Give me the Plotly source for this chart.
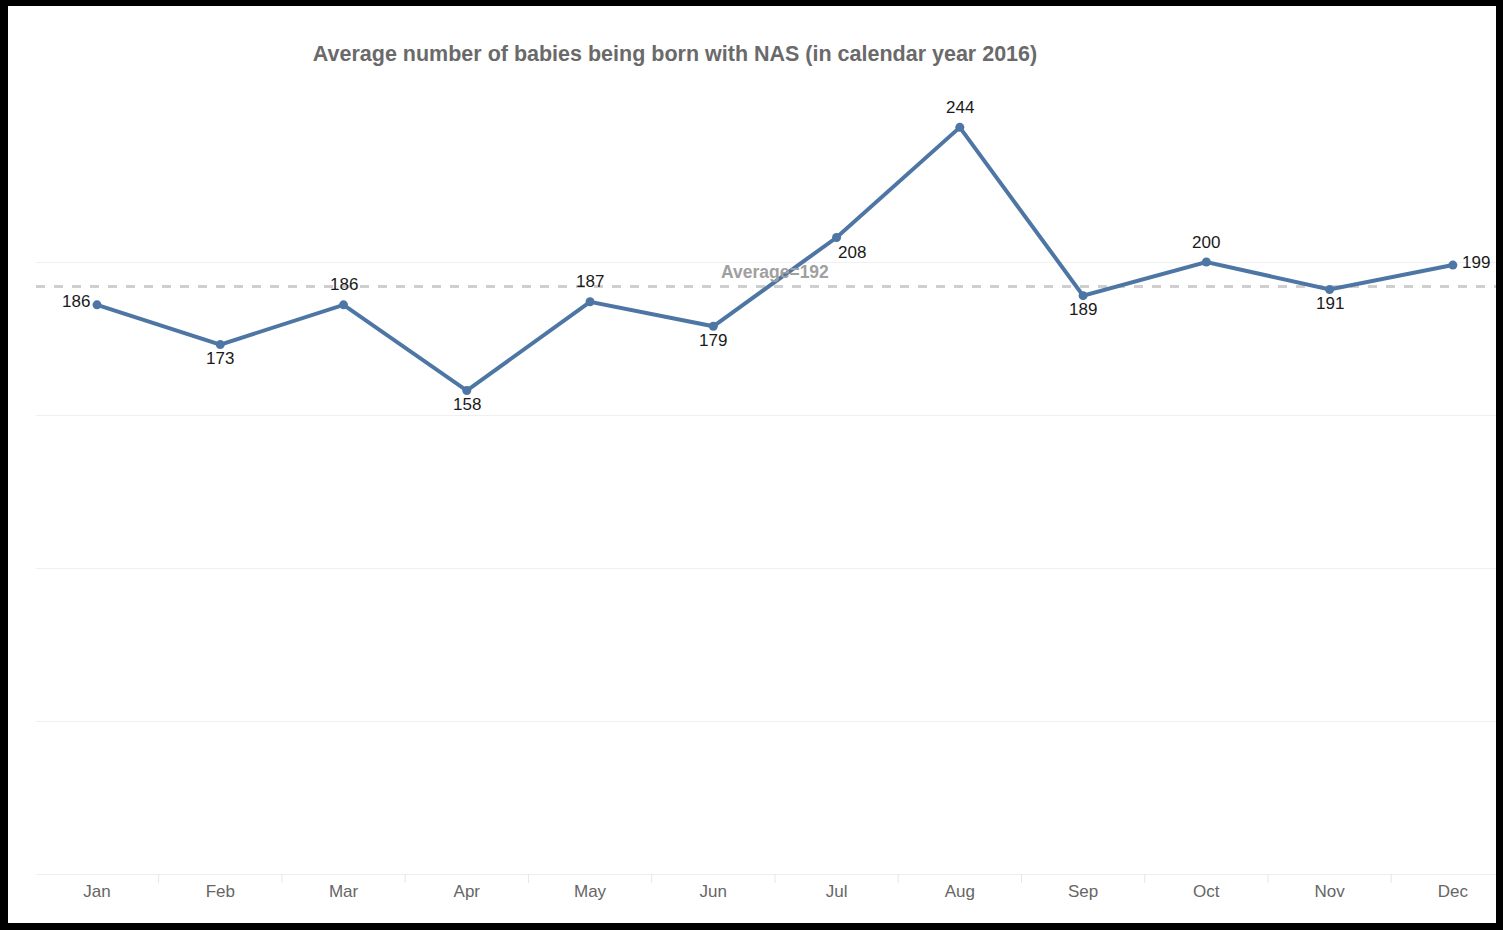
import plotly.graph_objects as go

months = ["Jan", "Feb", "Mar", "Apr", "May", "Jun", "Jul", "Aug", "Sep", "Oct", "Nov", "Dec"]
values = [186, 173, 186, 158, 187, 179, 208, 244, 189, 200, 191, 199]
label_pos = ["left", "below", "above", "below", "above",
             "below", "below-right", "above", "below", "above",
             "below", "right"]
average = 192
title = "Average number of babies being born with NAS (in calendar year 2016)"

W, H = 1503, 930
L, R, T, B = 36, 7, 109, 56
pw, ph = W - L - R, H - T - B

def px_x(p):
    return (p - L) / pw

def px_y(p):
    return (H - B - p) / ph

FONT = "Liberation Sans, Arial"

fig = go.Figure()
fig.add_trace(go.Scatter(
    x=list(range(len(months))), y=values,
    mode="lines+markers",
    line=dict(color="#4e76a5", width=4),
    marker=dict(color="#4e76a5", size=9),
    hoverinfo="skip",
))

offsets = {
    "left": (-21, 3), "right": (23, 3), "above": (0, 20), "below": (0, -14),
    "below-right": (15, -15),
}
for i, (v, pos) in enumerate(zip(values, label_pos)):
    dx, dy = offsets[pos]
    fig.add_annotation(x=i, y=v, xref="x", yref="y", text=str(v), showarrow=False,
                       xshift=dx, yshift=dy, xanchor="center", yanchor="middle",
                       font=dict(family=FONT, size=17, color="#1a1a1a"))

fig.add_shape(type="line", xref="paper", yref="y", x0=0, x1=1, y0=average, y1=average,
              line=dict(color="#cfcfcf", width=3, dash="dash"), layer="below")
fig.add_annotation(x=5.5, y=average, xref="x", yref="y", text=f"<b>Average={average}</b>",
                   showarrow=False, yanchor="middle", yshift=14,
                   font=dict(family=FONT, size=17.5, color="#a0a0a0"))

# black frame around page
frame = [
    (0, 8, 0, H), (W - 7, W, 0, H), (0, W, 0, 6), (0, W, H - 7, H)
]
for x0, x1, y0, y1 in frame:
    fig.add_shape(type="rect", xref="paper", yref="paper",
                  x0=px_x(x0), x1=px_x(x1), y0=px_y(y1), y1=px_y(y0),
                  fillcolor="black", line=dict(width=0), layer="above")

fig.update_layout(
    width=W, height=H,
    margin=dict(l=L, r=R, t=T, b=B),
    paper_bgcolor="white", plot_bgcolor="white",
    showlegend=False,
    title=dict(text=f"<b>{title}</b>", x=675 / W, xanchor="center", y=1 - 53 / H, yanchor="middle",
               font=dict(family=FONT, size=21.5, color="#6a6a6a")),
    xaxis=dict(
        type="linear", range=[-0.495, 11.35],
        tickmode="array", tickvals=list(range(12)), ticktext=months,
        showgrid=False, zeroline=False,
        showline=True, linecolor="#eeeeee", linewidth=1,
        ticks="", ticklabelstandoff=2,
        tickfont=dict(family=FONT, size=17, color="#666666"),
        fixedrange=True,
    ),
    yaxis=dict(
        range=[0, 250], tickvals=[0, 50, 100, 150, 200, 250], showticklabels=False,
        showgrid=True, gridcolor="#f0f0f0", gridwidth=1, zeroline=False, showline=False,
        fixedrange=True,
    ),
    hovermode=False,
)

# boundary ticks on x axis
for i in range(12):
    fig.add_shape(type="line", xref="x", yref="paper", x0=i - 0.5, x1=i - 0.5,
                  y0=0, y1=px_y(H - B + 9), line=dict(color="#e6e6e6", width=1))

fig.write_html("out.html")
